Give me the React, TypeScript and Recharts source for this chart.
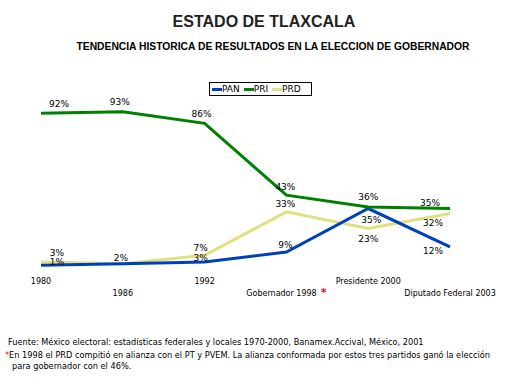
import { LabelList, Line, LineChart, XAxis, YAxis } from 'recharts'

const years = ['1980', '1986', '1992', 'Gobernador 1998', 'Presidente 2000', 'Diputado Federal 2003']
const pan = [1, 2, 3, 9, 35, 12]
const pri = [92, 93, 86, 43, 36, 35]
const prd = [3, 2, 7, 33, 23, 32]

const COLORS = { PAN: '#0040c0', PRI: '#008000', PRD: '#e0e080' }
const FONT = '"DejaVu Sans", Verdana, sans-serif'

// label placement (dx, dy from the point), null = no label
const labelOffsets: Record<string, ([number, number] | null)[]> = {
  PAN: [[16, -3], null, [-4, -4], [-1, -7], [3, 11], [-17, 4]],
  PRI: [[18, -9], [-3, -10], [-3, -9], [-1, -8], [0, -10], [-20, -6]],
  PRD: [[16, -9], [-2, -6], [-4, -7], [-1, -8], [0, 10], [-17, 9]],
}

const data = years.map((year, i) => ({ year, PAN: pan[i], PRI: pri[i], PRD: prd[i] }))

function makeLabel(series: string) {
  return (props: any) => {
    const { x, y, value, index } = props
    const off = labelOffsets[series][index]
    if (!off) return null
    return (
      <text
        x={x + off[0]}
        y={y + off[1]}
        dy={3}
        textAnchor="middle"
        fontSize={9}
        fontFamily={FONT}
        fill="#000"
      >
        {value}%
      </text>
    )
  }
}

function YearTick(props: any) {
  const { x, y, payload, index } = props
  const label = String(payload.value)
  const row = index % 2 === 0 ? 17 : 29
  return (
    <text x={x} y={y + row} textAnchor="middle" fontSize={8} fontFamily={FONT} fill="#000">
      {label}
      {label.startsWith('Gobernador') && (
        <tspan fill="#ff0000" fontSize={11} fontWeight="bold" dx={4}>
          *
        </tspan>
      )}
    </text>
  )
}

const legendItems = [
  { name: 'PAN', color: COLORS.PAN },
  { name: 'PRI', color: COLORS.PRI },
  { name: 'PRD', color: COLORS.PRD },
]

export default function App() {
  return (
    <div
      style={{
        position: 'absolute',
        left: 0,
        top: 0,
        width: 521,
        height: 391,
        background: '#fff',
        overflow: 'hidden',
      }}
    >
      <div
        style={{
          position: 'absolute',
          left: 0,
          width: 528,
          top: 14,
          textAlign: 'center',
          font: 'bold 16px/16px "Liberation Sans", Arial, sans-serif',
          color: '#222',
        }}
      >
        ESTADO DE TLAXCALA
      </div>
      <div
        style={{
          position: 'absolute',
          left: 0,
          width: 546,
          top: 41,
          textAlign: 'center',
          font: 'bold 10.3px/11px "Liberation Sans", Arial, sans-serif',
          color: '#000',
          whiteSpace: 'nowrap',
        }}
      >
        TENDENCIA HISTORICA DE RESULTADOS EN LA ELECCION DE GOBERNADOR
      </div>

      <div style={{ position: 'absolute', left: 0, top: 0 }}>
        <LineChart width={521} height={391} data={data} margin={{ top: 100, right: 71, left: 41, bottom: 94 }}>
          <XAxis
            dataKey="year"
            height={30}
            axisLine={false}
            tickLine={false}
            tickSize={0}
            tickMargin={0}
            interval={0}
            tick={<YearTick />}
          />
          <YAxis hide domain={[0, 100]} />
          <Line
            dataKey="PRD"
            stroke={COLORS.PRD}
            strokeWidth={3}
            dot={false}
            type="linear"
            isAnimationActive={false}
          >
            <LabelList dataKey="PRD" content={makeLabel('PRD')} />
          </Line>
          <Line
            dataKey="PAN"
            stroke={COLORS.PAN}
            strokeWidth={3}
            dot={false}
            type="linear"
            isAnimationActive={false}
          >
            <LabelList dataKey="PAN" content={makeLabel('PAN')} />
          </Line>
          <Line
            dataKey="PRI"
            stroke={COLORS.PRI}
            strokeWidth={3}
            dot={false}
            type="linear"
            isAnimationActive={false}
          >
            <LabelList dataKey="PRI" content={makeLabel('PRI')} />
          </Line>
        </LineChart>
      </div>

      <div
        style={{
          position: 'absolute',
          left: 209,
          top: 82,
          width: 99,
          height: 12,
          border: '1px solid #000',
          display: 'flex',
          alignItems: 'center',
          paddingLeft: 2,
          boxSizing: 'content-box',
          font: `9px/12px ${FONT}`,
          color: '#000',
        }}
      >
        {legendItems.map((item) => (
          <span key={item.name} style={{ display: 'flex', alignItems: 'center', marginRight: 4 }}>
            <span style={{ display: 'inline-block', width: 10, height: 3, background: item.color }} />
            {item.name}
          </span>
        ))}
      </div>

      <div
        style={{
          position: 'absolute',
          left: 8,
          top: 336,
          font: `8.2px/12px ${FONT}`,
          color: '#000',
          whiteSpace: 'nowrap',
        }}
      >
        Fuente: México electoral: estadísticas federales y locales 1970-2000, Banamex.Accival, México, 2001
      </div>
      <div
        style={{
          position: 'absolute',
          left: 5,
          top: 350,
          font: `8.2px/11px ${FONT}`,
          color: '#000',
          whiteSpace: 'nowrap',
        }}
      >
        <span style={{ color: '#ff0000' }}>*</span>En 1998 el PRD compitió en alianza con el PT y PVEM. La alianza conformada por
        estos tres partidos ganó la elección
        <br />
        <span style={{ paddingLeft: 7 }}>para gobernador con el 46%.</span>
      </div>
    </div>
  )
}
